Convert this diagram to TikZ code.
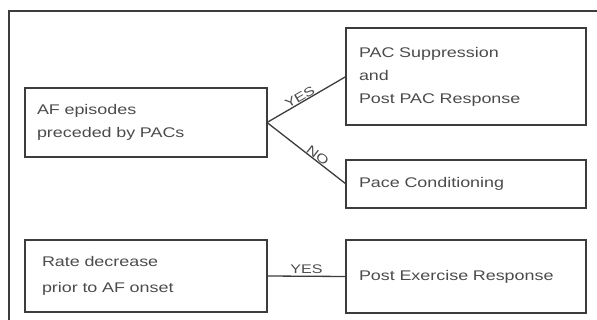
\documentclass[tikz,border=0pt]{standalone}
\usepackage{fontspec}
\newfontfamily\wfont[FakeStretch=1.28]{Liberation Sans}
\definecolor{ink}{RGB}{60,60,60}
\definecolor{txt}{RGB}{75,75,75}
\begin{document}
\begin{tikzpicture}[x=1pt,y=-1pt,
  box/.style={draw=ink,line width=2pt,outer sep=0pt,inner xsep=13pt,inner ysep=0pt,
    align=left,text=txt,font=\wfont\fontsize{14}{23}\selectfont,anchor=north west},
  conn/.style={draw=ink,line width=1.3pt},
  lbl/.style={text=txt,font=\wfont\fontsize{12.5}{14}\selectfont,inner sep=0.5pt}]
\useasboundingbox (0,0) rectangle (597,320);
\draw[ink,line width=1.5pt] (9,320) -- (9,11) -- (597,11);
\node[box,inner xsep=12pt,minimum width=242pt,text width=218pt,minimum height=69pt] (af) at (25,88) {AF episodes\\preceded by PACs};
\node[box,minimum width=240pt,text width=214pt,minimum height=97pt] (pac) at (346,28) {PAC Suppression\\and\\Post PAC Response};
\node[box,minimum width=240pt,text width=214pt,minimum height=48pt] (pace) at (346,160) {Pace Conditioning};
\node[box,inner xsep=17pt,minimum width=242pt,text width=208pt,minimum height=72pt] (rate) at (25,240) {Rate decrease\\[3pt]prior to AF onset};
\node[box,minimum width=240pt,text width=214pt,minimum height=73pt] (post) at (346,240) {Post Exercise Response};
\draw[conn] (af.east) -- node[lbl,pos=0.45,above,sloped] (yes1) {YES} (pac.west);
\draw[conn] (af.east) -- node[lbl,pos=0.6,above,sloped] (no1) {NO} (pace.west);
\draw[conn] (rate.east) -- node[lbl,above=1pt] (yes2) {YES} (post.west);
\end{tikzpicture}
\end{document}
